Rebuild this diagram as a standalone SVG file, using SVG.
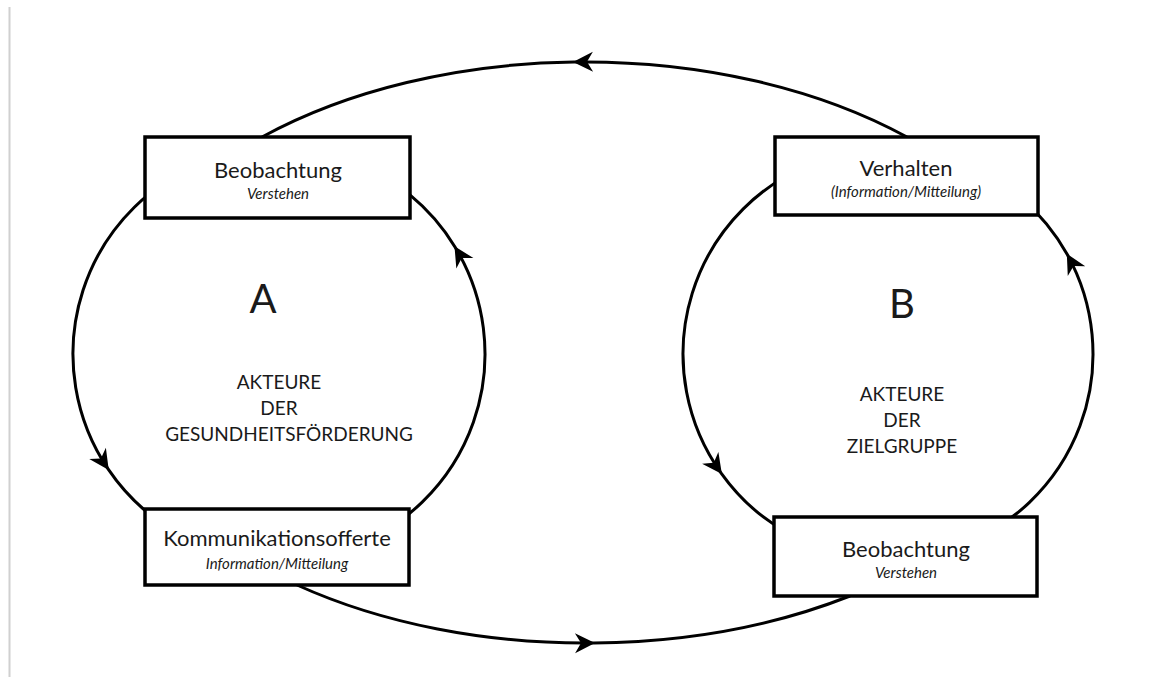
<svg xmlns="http://www.w3.org/2000/svg" width="1152" height="677" viewBox="0 0 1152 677">
<defs>
<marker id="arr" viewBox="-20 -11 22 22" refX="0" refY="0" markerWidth="22" markerHeight="22" markerUnits="userSpaceOnUse" orient="auto">
<path d="M1 0 L-19 -10 L-13 0 L-19 10 Z" fill="#000"/>
</marker>
<style>
.c{fill:none;stroke:#000;stroke-width:3;marker-mid:url(#arr)}
.box{fill:#fff;stroke:#000;stroke-width:3.5}
.t{font-family:Lato,"Noto Sans",sans-serif;fill:#1a1a1a;text-anchor:middle}
.m{font-size:22px}
.s{font-size:15px;font-style:italic}
.big{font-size:40px}
.cap{font-size:19px}
</style>
</defs>
<rect width="1152" height="677" fill="#fff"/>
<line x1="9.5" y1="7" x2="9.5" y2="677" stroke="#d0d0d0" stroke-width="2"/>
<g id="connectors">
<path class="c" d="M907 137 A480 290 0 0 0 574 62 A480 290 0 0 0 262 137"/>
<path class="c" d="M297 585 A480 290 0 0 0 594 643 A480 290 0 0 0 850 596"/>
<path class="c" d="M208.5 160.4 A206 206 0 0 0 108.2 469.2 A206 206 0 0 0 208.5 547.6"/>
<path class="c" d="M349.5 547.6 A206 206 0 0 0 455 247 A206 206 0 0 0 349.5 160.4"/>
<path class="c" d="M817.9 161.4 A205 205 0 0 0 721.3 473.3 A205 205 0 0 0 817.9 546.6"/>
<path class="c" d="M958.1 546.6 A205 205 0 0 0 1067.3 254.6 A205 205 0 0 0 958.1 161.4"/>
</g>
<g id="a-beobachtung">
<rect class="box" x="145" y="137" width="265" height="81"/>
<text class="t m" x="278" y="178">Beobachtung</text>
<text class="t s" x="278" y="199">Verstehen</text>
</g>
<g id="a-kommunikation">
<rect class="box" x="145" y="509" width="264" height="76"/>
<text class="t m" x="277" y="546">Kommunikationsofferte</text>
<text class="t s" x="277" y="569">Information/Mitteilung</text>
</g>
<g id="b-verhalten">
<rect class="box" x="775" y="137" width="263" height="78"/>
<text class="t m" x="906" y="176">Verhalten</text>
<text class="t s" x="906" y="197">(Information/Mitteilung)</text>
</g>
<g id="b-beobachtung">
<rect class="box" x="774" y="517" width="263" height="79"/>
<text class="t m" x="906" y="557">Beobachtung</text>
<text class="t s" x="906" y="578">Verstehen</text>
</g>
<g id="a-label">
<text class="t big" x="263" y="313">A</text>
<text class="t cap" x="279" y="389">AKTEURE</text>
<text class="t cap" x="279" y="415">DER</text>
<text class="t cap" x="289" y="441">GESUNDHEITSFÖRDERUNG</text>
</g>
<g id="b-label">
<text class="t big" x="902" y="318">B</text>
<text class="t cap" x="902" y="401">AKTEURE</text>
<text class="t cap" x="902" y="427">DER</text>
<text class="t cap" x="902" y="453">ZIELGRUPPE</text>
</g>
</svg>
